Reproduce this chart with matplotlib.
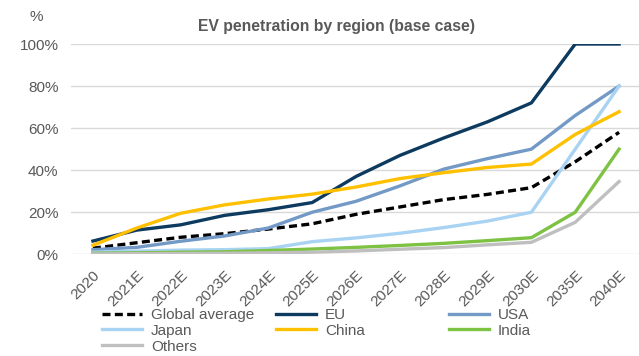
import matplotlib.pyplot as plt

plt.rcParams["font.family"] = ["Liberation Sans", "DejaVu Sans"]

# categories and series (% penetration)
years = ["2020", "2021E", "2022E", "2023E", "2024E", "2025E", "2026E",
         "2027E", "2028E", "2029E", "2030E", "2035E", "2040E"]
global_avg = [2.9, 5.5, 8.1, 9.8, 12.0, 14.5, 19.0, 22.5, 26.0, 28.5, 31.7, 44.0, 58.0]
eu = [6.3, 11.5, 14.0, 18.5, 21.2, 24.6, 37.0, 47.0, 55.3, 63.0, 72.0, 100.0, 100.0]
usa = [2.2, 3.3, 6.2, 8.7, 12.5, 20.0, 25.2, 32.5, 40.5, 45.5, 50.0, 66.0, 80.0]
japan = [1.0, 1.5, 2.0, 2.2, 2.7, 6.0, 7.8, 10.0, 12.7, 15.8, 20.0, 50.0, 80.0]
china = [4.3, 12.5, 19.5, 23.5, 26.3, 28.6, 32.0, 36.0, 38.8, 41.3, 42.9, 57.0, 67.8]
india = [0.5, 0.7, 1.0, 1.2, 1.8, 2.5, 3.3, 4.2, 5.2, 6.5, 7.9, 20.0, 50.0]
others = [0.2, 0.3, 0.4, 0.5, 0.7, 1.0, 1.6, 2.4, 3.2, 4.5, 5.7, 15.2, 34.6]

gray = "#595959"
fs = 11

fig = plt.figure(figsize=(6.39, 3.56), dpi=100)
ax = fig.add_axes([71 / 639, (356 - 254.3) / 356, 570 / 639, 210.3 / 356])

x = range(len(years))
lw = 2.4
l_glob, = ax.plot(x, global_avg, color="black", lw=lw, linestyle=(0, (2.4, 1.3)), label="Global average")
l_eu, = ax.plot(x, eu, color="#0D3A5F", lw=lw, label="EU")
l_usa, = ax.plot(x, usa, color="#7399C6", lw=lw, label="USA")
l_jap, = ax.plot(x, japan, color="#A9D3F2", lw=lw, label="Japan")
l_chn, = ax.plot(x, china, color="#FFC000", lw=lw, label="China")
l_ind, = ax.plot(x, india, color="#7DC243", lw=lw, label="India")
l_oth, = ax.plot(x, others, color="#BFBFBF", lw=lw, label="Others")

ax.set_xlim(-0.5, len(years) - 0.5)
ax.set_ylim(0, 100)
ax.set_yticks([0, 20, 40, 60, 80, 100])
ax.set_yticklabels([f"{v}%" for v in [0, 20, 40, 60, 80, 100]])
ax.set_xticks(list(x))
ax.set_xticklabels(years, rotation=45, ha="right", va="top", rotation_mode="anchor")
ax.tick_params(axis="both", length=0, colors=gray, labelsize=fs)
ax.tick_params(axis="y", pad=9)
ax.tick_params(axis="x", pad=10)
ax.grid(axis="y", color="#D9D9D9", lw=1)
ax.set_axisbelow(True)
for s in ax.spines.values():
    s.set_visible(False)

fig.text(336 / 639, 1 - 26 / 356, "EV penetration by region (base case)", ha="center", va="center",
         fontsize=11.3, fontweight="bold", color=gray)
fig.text(36 / 639, 1 - 17 / 356, "%", ha="center", va="center", fontsize=fs, color=gray)

# legend: three columns placed by hand
cols = [([l_glob, l_jap, l_oth], 102), ([l_eu, l_chn], 276), ([l_usa, l_ind], 449)]
for handles, xpx in cols:
    leg = fig.legend(handles=handles, loc="upper left", bbox_to_anchor=(xpx / 639, 1 - 308 / 356),
                     frameon=False, fontsize=fs, handlelength=2.6, handletextpad=0.6,
                     labelspacing=0.12, borderpad=0, borderaxespad=0)
    for t in leg.get_texts():
        t.set_color(gray)

fig.savefig("out.png", dpi=100)
